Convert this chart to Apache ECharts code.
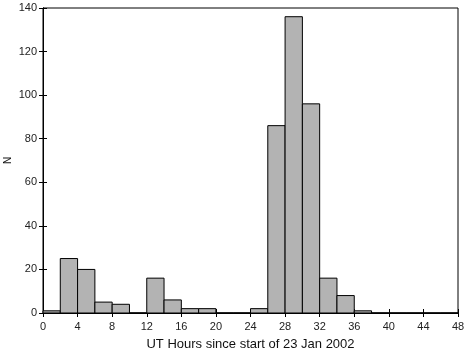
<!DOCTYPE html>
<html>
<head>
<meta charset="utf-8">
<script src="https://cdn.jsdelivr.net/npm/echarts@6/dist/echarts.min.js"></script>
<style>
    html, body { margin: 0; padding: 0; background: #fff; }
    #main { width: 467px; height: 352px; }
</style>
</head>
<body>
<div id="main"></div>
<script>
    // bin left edges (hours) and counts, bin width 2 h
    var binStart = [0, 2, 4, 6, 8, 10, 12, 14, 16, 18, 20, 22, 24, 26, 28, 30, 32, 34, 36, 38, 40, 42, 44, 46];
    var counts   = [1, 25, 20, 5, 4, 0, 16, 6, 2, 2, 0, 0, 2, 86, 136, 96, 16, 8, 1, 0, 0, 0, 0, 0];
    var binWidth = 2;

    var data = [];
    for (var i = 0; i < binStart.length; i++) {
        data.push([binStart[i], binStart[i] + binWidth, counts[i]]);
    }

    var myChart = echarts.init(document.getElementById('main'));

    var axisFont = { fontFamily: 'Liberation Sans', fontSize: 11, color: '#222' };

    var option = {
        animation: false,
        grid: {
            left: 43, right: 9, top: 8, bottom: 39,
            containLabel: false, outerBoundsMode: 'none',
            show: true, borderColor: '#000', borderWidth: 1
        },
        xAxis: [
            {
                type: 'value', min: 0, max: 48, interval: 4,
                name: 'UT Hours since start of 23 Jan 2002',
                nameLocation: 'middle', nameGap: 25,
                nameTextStyle: { fontFamily: 'Liberation Sans', fontSize: 13, color: '#111' },
                axisLine: { lineStyle: { color: '#000' } },
                axisTick: { inside: true, length: 4, lineStyle: { color: '#000' } },
                axisLabel: Object.assign({ margin: 8 }, axisFont),
                splitLine: { show: false }
            },
            {
                type: 'value', min: 0, max: 48, interval: 4, position: 'top',
                axisLine: { lineStyle: { color: '#000' } },
                axisTick: { inside: true, length: 4, lineStyle: { color: '#000' } },
                axisLabel: { show: false },
                splitLine: { show: false }
            }
        ],
        yAxis: [
            {
                type: 'value', min: 0, max: 140, interval: 20,
                name: 'N', nameLocation: 'middle', nameGap: 30, nameMoveOverlap: false,
                nameTextStyle: { fontFamily: 'Liberation Sans', fontSize: 10, color: '#111' },
                axisLine: { show: true, lineStyle: { color: '#000' } },
                axisTick: { show: true, inside: true, length: 4, lineStyle: { color: '#000' } },
                axisLabel: Object.assign({ margin: 6 }, axisFont),
                splitLine: { show: false }
            },
            {
                type: 'value', min: 0, max: 140, interval: 20, position: 'right',
                axisLine: { show: true, lineStyle: { color: '#000' } },
                axisTick: { show: true, inside: true, length: 4, lineStyle: { color: '#000' } },
                axisLabel: { show: false },
                splitLine: { show: false }
            }
        ],
        series: [
            {
                type: 'custom',
                renderItem: function (params, api) {
                    var p0 = api.coord([api.value(0), 0]);
                    var p1 = api.coord([api.value(1), api.value(2)]);
                    return {
                        type: 'rect',
                        shape: { x: p0[0], y: p1[1], width: p1[0] - p0[0], height: p0[1] - p1[1] },
                        style: { fill: '#b3b3b3', stroke: '#000', lineWidth: 1 }
                    };
                },
                encode: { x: [0, 1], y: 2 },
                data: data
            }
        ]
    };

    myChart.setOption(option);
</script>
</body>
</html>
